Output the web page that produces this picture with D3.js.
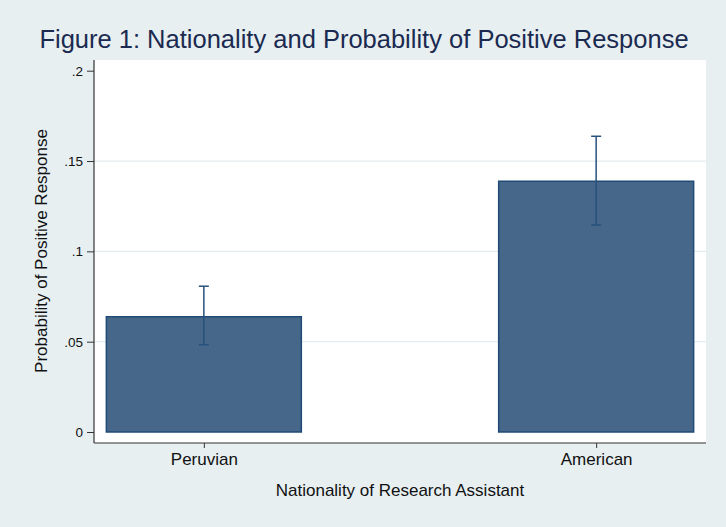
<!DOCTYPE html>
<html>
<head>
<meta charset="utf-8">
<script src="https://cdn.jsdelivr.net/npm/d3@7"></script>
<style>
  html, body { margin: 0; padding: 0; background: #e7eff1; }
  svg { display: block; font-family: "Liberation Sans", Arial, Helvetica, sans-serif; }
</style>
</head>
<body>
<svg id="chart" width="726" height="527"></svg>
<script>
// Probability of a positive response by research assistant nationality
const categories = ["Peruvian", "American"];
const means = [0.0638, 0.1388];
const ciLow = [0.0483, 0.1146];
const ciHigh = [0.0807, 0.1637];
const yTicks = [0, 0.05, 0.1, 0.15, 0.2];
const yTickLabels = ["0", ".05", ".1", ".15", ".2"];

const W = 726, H = 527;
const plot = { left: 94, right: 706, top: 60, bottom: 443 };

const svg = d3.select("#chart");

svg.append("rect").attr("width", W).attr("height", H).attr("fill", "#e7eff1");
svg.append("rect")
  .attr("x", plot.left).attr("y", plot.top)
  .attr("width", plot.right - plot.left).attr("height", plot.bottom - plot.top)
  .attr("fill", "#ffffff");

const y = d3.scaleLinear().domain([0, 0.2]).range([432, 70.7]);
const x = d3.scalePoint().domain(categories).range([plot.left, plot.right]).padding(0.28);
const barW = x.step() * 0.497;

// gridlines
svg.append("g").selectAll("line")
  .data(yTicks.filter(t => t > 0 && t < 0.2))
  .join("line")
  .attr("x1", plot.left).attr("x2", plot.right)
  .attr("y1", d => y(d)).attr("y2", d => y(d))
  .attr("stroke", "#e3ecee").attr("stroke-width", 1.2);

// bars
svg.append("g").selectAll("rect")
  .data(categories)
  .join("rect")
  .attr("x", d => x(d) - barW / 2)
  .attr("width", barW)
  .attr("y", (d, i) => y(means[i]))
  .attr("height", (d, i) => y(0) - y(means[i]))
  .attr("fill", "#46678a")
  .attr("stroke", "#1f4b76")
  .attr("stroke-width", 1.5);

// confidence intervals
const ci = svg.append("g").attr("stroke", "#26517c").attr("stroke-width", 1.5).attr("fill", "none");
categories.forEach((c, i) => {
  const cx = x(c);
  ci.append("line").attr("x1", cx).attr("x2", cx).attr("y1", y(ciLow[i])).attr("y2", y(ciHigh[i]));
  ci.append("line").attr("x1", cx - 5).attr("x2", cx + 5).attr("y1", y(ciLow[i])).attr("y2", y(ciLow[i]));
  ci.append("line").attr("x1", cx - 5).attr("x2", cx + 5).attr("y1", y(ciHigh[i])).attr("y2", y(ciHigh[i]));
});

// y axis
const yAxis = d3.axisLeft(y).tickValues(yTicks)
  .tickFormat((d, i) => yTickLabels[i]).tickSize(7).tickPadding(4);
const gy = svg.append("g").attr("transform", `translate(${plot.left},0)`).call(yAxis);
gy.select(".domain").remove();
gy.selectAll("line").attr("stroke", "#333");
gy.selectAll("text").attr("font-size", 13.5).attr("fill", "#111")
  .attr("font-family", "Liberation Sans, Arial, sans-serif");
svg.append("line").attr("x1", plot.left).attr("x2", plot.left)
  .attr("y1", plot.top).attr("y2", plot.bottom).attr("stroke", "#333").attr("stroke-width", 1.2);

// x axis
const xAxis = d3.axisBottom(x).tickSize(5).tickPadding(5);
const gx = svg.append("g").attr("transform", `translate(0,${plot.bottom})`).call(xAxis);
gx.select(".domain").remove();
gx.selectAll("line").attr("stroke", "#333");
gx.selectAll("text").attr("font-size", 17).attr("fill", "#111")
  .attr("font-family", "Liberation Sans, Arial, sans-serif");
svg.append("line").attr("x1", plot.left).attr("x2", plot.right)
  .attr("y1", plot.bottom).attr("y2", plot.bottom).attr("stroke", "#333").attr("stroke-width", 1.2);

// titles
svg.append("text")
  .attr("x", 364).attr("y", 48)
  .attr("text-anchor", "middle")
  .attr("font-size", 25.5).attr("fill", "#1b2a50")
  .text("Figure 1: Nationality and Probability of Positive Response");

svg.append("text")
  .attr("x", (plot.left + plot.right) / 2).attr("y", 496)
  .attr("text-anchor", "middle")
  .attr("font-size", 17).attr("fill", "#111")
  .text("Nationality of Research Assistant");

svg.append("text")
  .attr("transform", "translate(47,251) rotate(-90)")
  .attr("text-anchor", "middle")
  .attr("font-size", 17).attr("fill", "#111")
  .text("Probability of Positive Response");
</script>
</body>
</html>
